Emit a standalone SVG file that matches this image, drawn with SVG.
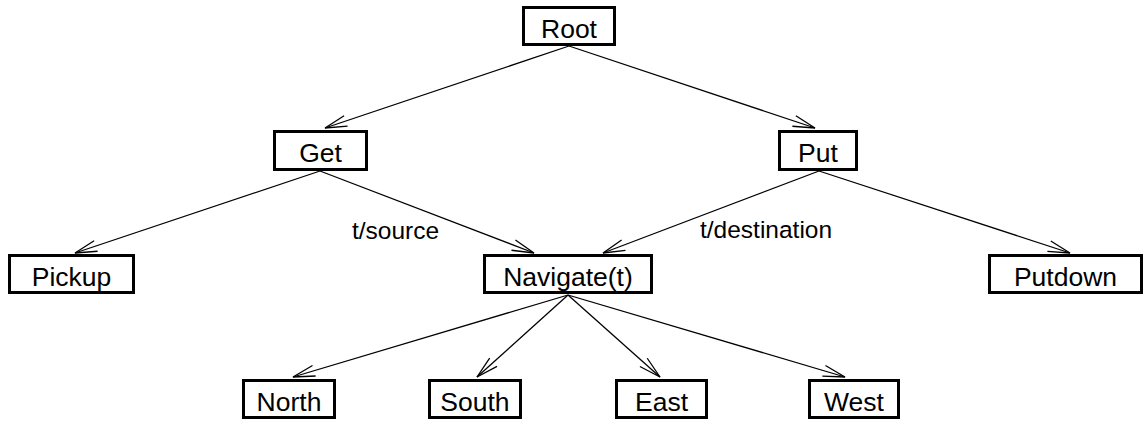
<svg xmlns="http://www.w3.org/2000/svg" width="1146" height="421" viewBox="0 0 1146 421">
<style>
.box{fill:#fff;stroke:#000;stroke-width:3}
.lbl{font-family:"Liberation Sans",Arial,sans-serif;font-size:26.5px;text-anchor:middle;fill:#000}
.elbl{font-family:"Liberation Sans",Arial,sans-serif;font-size:24.5px;fill:#000}
.edge{stroke:#000;stroke-width:1.3;fill:none;marker-end:url(#arr)}
</style>
<defs>
<marker id="arr" markerWidth="30" markerHeight="20" viewBox="-25 -10 30 20" refX="0" refY="0" orient="auto" markerUnits="userSpaceOnUse">
<path d="M-22,-5.5 L0,0 L-22,5.5" fill="none" stroke="#000" stroke-width="1.3"/>
</marker>
</defs>
<rect width="1146" height="421" fill="#fff"/>
<g id="connectors">
<line class="edge" x1="569" y1="46" x2="325" y2="128"/>
<line class="edge" x1="569" y1="46" x2="815" y2="128"/>
<line class="edge" x1="320" y1="171" x2="75" y2="253"/>
<line class="edge" x1="320" y1="171" x2="534" y2="253"/>
<line class="edge" x1="819" y1="171" x2="603" y2="253"/>
<line class="edge" x1="819" y1="171" x2="1070" y2="253"/>
<line class="edge" x1="568" y1="295" x2="293" y2="377"/>
<line class="edge" x1="568" y1="295" x2="477" y2="377"/>
<line class="edge" x1="568" y1="295" x2="660" y2="377"/>
<line class="edge" x1="568" y1="295" x2="845" y2="377"/>
<text class="elbl" x="352" y="239">t/source</text>
<text class="elbl" x="700" y="238">t/destination</text>
</g>
<g id="root"><rect class="box" x="523.5" y="7.5" width="91" height="37"/><text class="lbl" x="569" y="38">Root</text></g>
<g id="get"><rect class="box" x="274.5" y="131.5" width="92" height="38"/><text class="lbl" x="320.5" y="162">Get</text></g>
<g id="put"><rect class="box" x="779.5" y="131.5" width="77" height="38"/><text class="lbl" x="818" y="162">Put</text></g>
<g id="pickup"><rect class="box" x="9.5" y="255.5" width="124" height="37"/><text class="lbl" x="71.5" y="286">Pickup</text></g>
<g id="navigate"><rect class="box" x="484.5" y="255.5" width="167" height="37"/><text class="lbl" x="568" y="286">Navigate(t)</text></g>
<g id="putdown"><rect class="box" x="989.5" y="255.5" width="152" height="37"/><text class="lbl" x="1065.5" y="286">Putdown</text></g>
<g id="north"><rect class="box" x="243.5" y="380.5" width="91" height="37"/><text class="lbl" x="289" y="411">North</text></g>
<g id="south"><rect class="box" x="429.5" y="380.5" width="91" height="37"/><text class="lbl" x="475" y="411">South</text></g>
<g id="east"><rect class="box" x="616.5" y="380.5" width="90" height="37"/><text class="lbl" x="661.5" y="411">East</text></g>
<g id="west"><rect class="box" x="809.5" y="380.5" width="89" height="37"/><text class="lbl" x="854" y="411">West</text></g>
</svg>
